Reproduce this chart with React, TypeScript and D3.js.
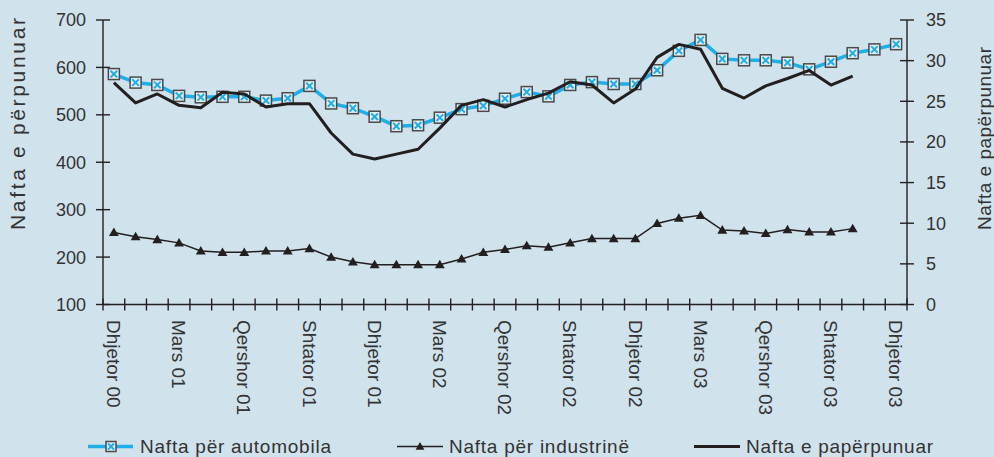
import React from "react";
import * as d3 from "d3";

const monthNames = ["Janar","Shkurt","Mars","Prill","Maj","Qershor","Korrik","Gusht","Shtator","Tetor","Nëntor","Dhjetor"];
// 37 months: Dhjetor 00 .. Dhjetor 03
const categories: string[] = ["Dhjetor 00"];
for (const y of ["01", "02", "03"]) for (const m of monthNames) categories.push(`${m} ${y}`);

const automobila = [586,568,563,540,537,538,538,530,535,561,524,514,496,476,478,494,512,519,534,548,539,563,569,565,565,594,635,658,618,615,615,610,596,612,630,638,649];
const industrine = [252,243,237,230,213,210,210,213,213,218,200,190,184,184,184,184,196,210,216,224,221,230,239,239,239,271,282,288,257,255,250,258,253,253,260];
const paperpunuar = [27.3,24.8,25.9,24.5,24.2,26.1,25.9,24.3,24.7,24.7,21.1,18.5,17.9,18.5,19.1,21.7,24.5,25.2,24.3,25.2,26.0,27.4,27.0,24.8,26.5,30.4,32.0,31.4,26.6,25.4,26.9,27.8,28.8,27.0,28.1];

const leftTicks = [100,200,300,400,500,600,700];
const rightTicks = [0,5,10,15,20,25,30,35];

const W = 994, H = 457;
const BG = "#d0e2ec";
const BLUE = "#1eaee8";
const INK = "#231f20";
const TXT = "#333";
const FONT = "'Liberation Sans', Arial, Helvetica, sans-serif";

export default function App() {
  const x0 = 103, x1 = 907, yTop = 20, yBot = 304.5;
  const x = d3.scaleBand<number>().domain(d3.range(categories.length)).range([x0, x1]).padding(0);
  const bw = x.bandwidth();
  const cx = (i: number) => (x(i) as number) + bw / 2;
  const yL = d3.scaleLinear().domain([100, 700]).range([yBot, yTop]);
  const yR = d3.scaleLinear().domain([0, 35]).range([yBot, yTop]);

  const lineL = d3.line<number>().x((_, i) => cx(i)).y(d => yL(d));
  const lineR = d3.line<number>().x((_, i) => cx(i)).y(d => yR(d));

  const boundaries = d3.range(categories.length + 1).map(i => x0 + i * bw);

  const Square = ({ px, py, s }: { px: number; py: number; s: number }) => (
    <g transform={`translate(${px},${py})`}>
      <rect x={-s / 2} y={-s / 2} width={s} height={s} fill="#e3edf2" stroke="#4a4a4a" strokeWidth={1.5} />
      <line x1={-s * 0.3} y1={-s * 0.3} x2={s * 0.3} y2={s * 0.3} stroke={BLUE} strokeWidth={2} />
      <line x1={-s * 0.3} y1={s * 0.3} x2={s * 0.3} y2={-s * 0.3} stroke={BLUE} strokeWidth={2} />
    </g>
  );
  const tri = (px: number, py: number, s: number) =>
    `M${px},${py - s * 0.55}L${px + s * 0.55},${py + s * 0.4}L${px - s * 0.55},${py + s * 0.4}Z`;

  const legY = 446.5;

  return (
    <svg width={W} height={H} style={{ position: "fixed", left: 0, top: 0 }} fontFamily={FONT}>
      <rect width={W} height={H} fill={BG} />

      {/* axes */}
      <g stroke={INK} strokeWidth={1.4}>
        <line x1={x0} y1={yTop} x2={x0} y2={yBot} />
        <line x1={x1} y1={yTop} x2={x1} y2={yBot} />
        <line x1={x0} y1={yBot} x2={x1} y2={yBot} />
        {leftTicks.map(t => <line key={"l" + t} x1={x0 - 7} x2={x0 + 7} y1={yL(t)} y2={yL(t)} />)}
        {rightTicks.map(t => <line key={"r" + t} x1={x1 - 7} x2={x1 + 7} y1={yR(t)} y2={yR(t)} />)}
        {boundaries.map((b, i) => <line key={"b" + i} x1={b} x2={b} y1={yBot - 6} y2={yBot + 6} />)}
      </g>

      {leftTicks.map(t => (
        <text key={"lt" + t} x={86} y={yL(t)} dy="0.36em" textAnchor="end" fontSize={18} fill={TXT}>{t}</text>
      ))}
      {rightTicks.map(t => (
        <text key={"rt" + t} x={926} y={yR(t)} dy="0.36em" textAnchor="start" fontSize={18} fill={TXT}>{t}</text>
      ))}

      {categories.map((c, i) => i % 3 === 0 ? (
        <text key={"x" + i} transform={`translate(${cx(i)},${320}) rotate(90)`} dy="0.36em" textAnchor="start" fontSize={19} fill={TXT}>{c}</text>
      ) : null)}

      <text transform={`translate(25,124) rotate(-90)`} textAnchor="middle" fontSize={21} fill={TXT} textLength={212} lengthAdjust="spacing">Nafta e përpunuar</text>
      <text transform={`translate(991,138.5) rotate(-90)`} textAnchor="middle" fontSize={19} fill={TXT} textLength={183} lengthAdjust="spacing">Nafta e papërpunuar</text>

      {/* series */}
      <path d={lineL(automobila) || ""} fill="none" stroke={BLUE} strokeWidth={3.5} />
      <path d={lineL(industrine) || ""} fill="none" stroke={INK} strokeWidth={1.5} />
      {industrine.map((v, i) => <path key={"t" + i} d={tri(cx(i), yL(v), 9)} fill={INK} />)}
      {automobila.map((v, i) => <Square key={"s" + i} px={cx(i)} py={yL(v)} s={11} />)}
      <path d={lineR(paperpunuar) || ""} fill="none" stroke={INK} strokeWidth={3} strokeLinejoin="round" />

      {/* legend */}
      <line x1={88} x2={133} y1={legY} y2={legY} stroke={BLUE} strokeWidth={3.5} />
      <Square px={111} py={legY} s={10} />
      <text x={140} y={453} fontSize={19} fill={TXT} textLength={191} lengthAdjust="spacing">Nafta për automobila</text>

      <line x1={397} x2={443} y1={legY} y2={legY} stroke={INK} strokeWidth={1.5} />
      <path d={tri(420, legY, 8)} fill={INK} />
      <text x={449} y={453} fontSize={19} fill={TXT} textLength={180} lengthAdjust="spacing">Nafta për industrinë</text>

      <line x1={694} x2={740} y1={legY} y2={legY} stroke={INK} strokeWidth={3} />
      <text x={746} y={453} fontSize={19} fill={TXT} textLength={187} lengthAdjust="spacing">Nafta e papërpunuar</text>
    </svg>
  );
}
